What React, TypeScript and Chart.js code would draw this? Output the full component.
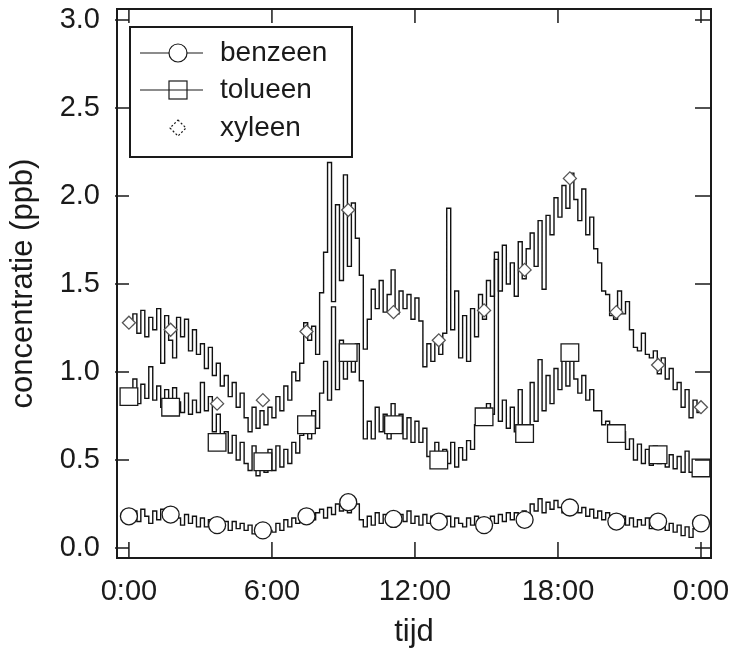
import React, { useEffect, useRef } from 'react';
import { Chart, registerables } from 'chart.js';

Chart.register(...registerables);

// time step of the measured series: 10 minutes (in hours)
const STEP_HOURS = 1 / 6;

const xTickValues = [0, 6, 12, 18, 24];
const xTickLabels = ['0:00', '6:00', '12:00', '18:00', '0:00'];
const yTickValues = [0, 0.5, 1.0, 1.5, 2.0, 2.5, 3.0];

const seriesLabels = ['benzeen', 'tolueen', 'xyleen'];

// 10-minute values, 0:00 .. 24:00 (145 points)
const benzeen = [
  0.17, 0.21, 0.15, 0.22, 0.18, 0.14,
  0.21, 0.16, 0.22, 0.17, 0.15, 0.20,
  0.17, 0.13, 0.19, 0.14, 0.18, 0.12,
  0.17, 0.12, 0.16, 0.11, 0.16, 0.12,
  0.15, 0.10, 0.15, 0.11, 0.14, 0.10,
  0.13, 0.08, 0.13, 0.09, 0.12, 0.10,
  0.09, 0.14, 0.10, 0.16, 0.12, 0.17,
  0.14, 0.19, 0.15, 0.21, 0.16, 0.20,
  0.22, 0.17, 0.23, 0.19, 0.25, 0.21,
  0.26, 0.20, 0.28, 0.25, 0.16, 0.12,
  0.18, 0.13, 0.20, 0.14, 0.19, 0.15,
  0.20, 0.14, 0.19, 0.15, 0.21, 0.14,
  0.18, 0.13, 0.19, 0.14, 0.18, 0.12,
  0.17, 0.13, 0.18, 0.12, 0.17, 0.14,
  0.12, 0.17, 0.13, 0.18, 0.14, 0.17,
  0.13, 0.18, 0.14, 0.19, 0.15, 0.20,
  0.16, 0.20, 0.15, 0.21, 0.18, 0.25,
  0.21, 0.28, 0.20, 0.26, 0.22, 0.27,
  0.23, 0.20, 0.26, 0.21, 0.24, 0.20,
  0.23, 0.18, 0.22, 0.17, 0.21, 0.16,
  0.20, 0.15, 0.19, 0.14, 0.18, 0.13,
  0.17, 0.12, 0.16, 0.13, 0.17, 0.11,
  0.15, 0.11, 0.16, 0.10, 0.14, 0.09,
  0.13, 0.07, 0.12, 0.06, 0.11, 0.12,
  0.14,
];

const tolueen = [
  0.88, 0.96, 0.82, 0.93, 0.85, 1.03,
  0.84, 0.92, 0.80, 0.90, 0.78, 0.91,
  0.83, 0.77, 0.88, 0.76, 0.84, 0.77,
  0.94, 0.78, 0.86, 0.66, 0.76, 0.60,
  0.66, 0.54, 0.64, 0.50, 0.60, 0.48,
  0.44, 0.58, 0.41, 0.52, 0.43, 0.56,
  0.44, 0.58, 0.46, 0.56, 0.48, 0.60,
  0.54, 0.64, 0.72, 0.62, 0.78, 0.68,
  0.88, 1.06, 0.84, 1.37, 0.90, 1.18,
  0.96, 1.14, 1.00, 1.16, 0.95, 0.62,
  0.72, 0.62, 0.80, 0.66, 0.76, 0.62,
  0.82, 0.66, 0.76, 0.62, 0.74, 0.60,
  0.72, 0.60, 0.68, 0.52, 0.48, 0.60,
  0.46, 0.56, 0.48, 0.60, 0.46, 0.57,
  0.50, 0.61, 0.56, 0.70, 0.70, 0.78,
  0.82, 0.76, 1.68, 0.72, 0.84, 0.68,
  0.80, 0.66, 0.90, 0.70, 0.64, 0.94,
  0.72, 1.07, 0.78, 0.98, 0.82, 1.02,
  0.90, 1.06, 0.92, 1.07, 0.96, 0.88,
  0.98, 0.84, 0.90, 0.78, 0.78, 0.70,
  0.72, 0.62, 0.70, 0.60, 0.66, 0.56,
  0.62, 0.50, 0.59, 0.48, 0.56, 0.47,
  0.58, 0.48, 0.56, 0.46, 0.53, 0.45,
  0.52, 0.43, 0.55, 0.43, 0.50, 0.44,
  0.46,
];

const xyleen = [
  1.27, 1.33, 1.22, 1.35, 1.20, 1.31,
  1.24, 1.36, 1.05, 1.32, 1.18, 1.08,
  1.31, 1.20, 1.30, 1.12, 1.24, 1.10,
  1.16, 1.02, 1.14, 0.98, 1.05, 0.92,
  0.98, 0.86, 0.94, 0.80, 0.88, 0.74,
  0.66, 0.80, 0.68, 0.78, 0.70, 0.80,
  0.74, 0.86, 0.78, 0.92, 0.84, 1.00,
  0.95, 1.05, 1.28, 1.18, 1.26, 1.10,
  1.45, 1.68, 2.19, 1.40, 1.95, 1.52,
  2.12, 1.60, 1.96, 1.76, 1.55, 1.13,
  1.30, 1.47, 1.36, 1.52, 1.34, 1.44,
  1.58, 1.33, 1.46, 1.36, 1.44, 1.30,
  1.42, 1.29, 1.03, 1.16, 1.06, 1.19,
  1.10, 1.22, 1.93, 1.24, 1.46, 1.08,
  1.32, 1.06, 1.36, 1.20, 1.44, 1.30,
  1.52, 1.43, 1.64, 1.46, 1.72, 1.50,
  1.62, 1.43, 1.74, 1.53, 1.70, 1.79,
  1.60, 1.86, 1.47, 1.89, 1.78, 1.99,
  1.88, 2.06, 1.93, 2.13, 1.98, 1.86,
  2.04, 1.78, 1.88, 1.70, 1.62, 1.46,
  1.44, 1.32, 1.30, 1.46, 1.33, 1.40,
  1.24, 1.14, 1.12, 1.22, 1.10, 1.08,
  1.12, 0.99, 1.08, 0.96, 1.02, 0.90,
  0.94, 0.80, 0.90, 0.74, 0.84, 0.77,
  0.80,
];

// marker symbols (hours) and their values
const markerTimes = [0.0, 1.75, 3.7, 5.62, 7.45, 9.2, 11.1, 13.0, 14.9, 16.6, 18.5, 20.45, 22.2, 24.0];
const benzeenMarkers = [0.18, 0.19, 0.13, 0.10, 0.18, 0.26, 0.165, 0.15, 0.13, 0.16, 0.23, 0.15, 0.15, 0.14];
const tolueenMarkers = [0.86, 0.80, 0.60, 0.49, 0.70, 1.11, 0.70, 0.50, 0.745, 0.65, 1.11, 0.65, 0.53, 0.455];
const xyleenMarkers = [1.28, 1.24, 0.82, 0.84, 1.23, 1.92, 1.34, 1.18, 1.35, 1.58, 2.10, 1.34, 1.04, 0.80];

const FONT = '"Liberation Sans", Arial, sans-serif';
const INK = '#1a1a1a';

function toPoints(vals: number[]) {
  return vals.map((v, i) => ({ x: i * STEP_HOURS, y: v }));
}
function toMarkerPoints(vals: number[]) {
  return vals.map((v, i) => ({ x: markerTimes[i], y: v }));
}

export default function App() {
  const ref = useRef<HTMLCanvasElement>(null);

  useEffect(() => {
    document.body.style.margin = '0';
    document.body.style.overflow = 'hidden';
    const canvas = ref.current;
    if (!canvas) return;

    const frameTicks = {
      id: 'frameTicks',
      afterDatasetsDraw(chart: any) {
        const { ctx, chartArea: ca, scales } = chart;
        ctx.save();
        ctx.strokeStyle = INK;
        ctx.lineWidth = 2;
        ctx.strokeRect(ca.left, ca.top, ca.right - ca.left, ca.bottom - ca.top);
        ctx.lineWidth = 1.5;
        ctx.beginPath();
        for (const v of yTickValues) {
          const py = scales.y.getPixelForValue(v);
          ctx.moveTo(ca.left - 2, py);
          ctx.lineTo(ca.left + 12, py);
          ctx.moveTo(ca.right - 16, py);
          ctx.lineTo(ca.right + 1, py);
        }
        for (const v of xTickValues) {
          const px = scales.x.getPixelForValue(v);
          ctx.moveTo(px, ca.bottom + 1);
          ctx.lineTo(px, ca.bottom - 16);
          ctx.moveTo(px, ca.top - 1);
          ctx.lineTo(px, ca.top + 14);
        }
        ctx.stroke();
        ctx.restore();
      },
    };

    const legendBox = {
      id: 'legendBox',
      afterDraw(chart: any) {
        const { ctx, chartArea: ca } = chart;
        const left = ca.left + 13;
        const top = ca.top + 18;
        const w = 222;
        const h = 130;
        ctx.save();
        ctx.fillStyle = '#fff';
        ctx.fillRect(left, top, w, h);
        ctx.strokeStyle = INK;
        ctx.lineWidth = 2;
        ctx.strokeRect(left, top, w, h);
        const rows = [top + 26, top + 63, top + 101];
        const sx0 = left + 10;
        const sx1 = left + 73;
        const cx = left + 48;
        ctx.lineWidth = 1.2;
        // benzeen
        ctx.beginPath();
        ctx.moveTo(sx0, rows[0]);
        ctx.lineTo(sx1, rows[0]);
        ctx.stroke();
        ctx.beginPath();
        ctx.arc(cx, rows[0], 9, 0, Math.PI * 2);
        ctx.fillStyle = '#fff';
        ctx.fill();
        ctx.stroke();
        // tolueen
        ctx.fillRect(cx - 9, rows[1] - 9, 18, 18);
        ctx.strokeRect(cx - 9, rows[1] - 9, 18, 18);
        ctx.beginPath();
        ctx.moveTo(sx0, rows[1]);
        ctx.lineTo(sx1, rows[1]);
        ctx.stroke();
        // xyleen
        ctx.setLineDash([2, 2]);
        ctx.beginPath();
        ctx.moveTo(cx, rows[2] - 8);
        ctx.lineTo(cx + 8, rows[2]);
        ctx.lineTo(cx, rows[2] + 8);
        ctx.lineTo(cx - 8, rows[2]);
        ctx.closePath();
        ctx.stroke();
        ctx.setLineDash([]);
        ctx.fillStyle = INK;
        ctx.font = `28px ${FONT}`;
        ctx.textBaseline = 'middle';
        ctx.textAlign = 'left';
        seriesLabels.forEach((t, i) => ctx.fillText(t, left + 90, rows[i]));
        ctx.restore();
      },
    };

    const lineDs = (label: string, vals: number[]) => ({
      label,
      data: toPoints(vals),
      showLine: true,
      borderColor: '#111',
      borderWidth: 1.4,
      pointRadius: 0,
      pointHoverRadius: 0,
      stepped: true,
      fill: false,
      order: 2,
    });
    const markDs = (label: string, vals: number[], style: string, r: number, dash = false) => ({
      label: label + ' markers',
      data: toMarkerPoints(vals),
      showLine: false,
      pointStyle: style,
      pointRadius: r,
      pointBackgroundColor: '#fff',
      pointBorderColor: dash ? '#555' : INK,
      pointBorderWidth: 1.3,
      order: 1,
    });

    const chart = new Chart(canvas, {
      type: 'scatter',
      data: {
        datasets: [
          lineDs(seriesLabels[0], benzeen),
          lineDs(seriesLabels[1], tolueen),
          lineDs(seriesLabels[2], xyleen),
          markDs(seriesLabels[0], benzeenMarkers, 'circle', 8.5),
          markDs(seriesLabels[1], tolueenMarkers, 'rect', 12.5),
          markDs(seriesLabels[2], xyleenMarkers, 'rectRot', 6.5, true),
        ] as any,
      },
      options: {
        animation: false,
        responsive: true,
        maintainAspectRatio: false,
        layout: { autoPadding: false, padding: { top: 9, right: 18, bottom: 0, left: 0 } },
        plugins: { legend: { display: false }, tooltip: { enabled: false } },
        scales: {
          x: {
            type: 'linear',
            min: -0.5,
            max: 24.42,
            afterBuildTicks: (s: any) => {
              s.ticks = xTickValues.map((v) => ({ value: v }));
            },
            afterFit: (s: any) => {
              s.height = 96;
              s.paddingLeft = 0;
              s.paddingRight = 0;
            },
            grid: { display: false, drawTicks: false },
            border: { display: false },
            ticks: {
              padding: 17,
              color: INK,
              font: { family: FONT, size: 29 },
              maxRotation: 0,
              autoSkip: false,
              callback: (v: any) => {
                const i = xTickValues.indexOf(Number(v));
                return i >= 0 ? xTickLabels[i] : '';
              },
            },
            title: {
              display: true,
              text: 'tijd',
              color: INK,
              font: { family: FONT, size: 31 },
              padding: { top: 0, bottom: 3 },
            },
          },
          y: {
            type: 'linear',
            min: -0.057,
            max: 3.0625,
            afterBuildTicks: (s: any) => {
              s.ticks = yTickValues.map((v) => ({ value: v }));
            },
            afterFit: (s: any) => {
              s.width = 117;
              s.paddingTop = 0;
              s.paddingBottom = 0;
            },
            grid: { display: false, drawTicks: false },
            border: { display: false },
            ticks: {
              padding: 17,
              color: INK,
              font: { family: FONT, size: 29 },
              autoSkip: false,
              callback: (v: any) => Number(v).toFixed(1),
            },
            title: {
              display: true,
              text: 'concentratie (ppb)',
              color: INK,
              font: { family: FONT, size: 31 },
              padding: { top: 5, bottom: 0 },
            },
          },
        },
      },
      plugins: [frameTicks, legendBox],
    });

    return () => chart.destroy();
  }, []);

  return (
    <div style={{ width: 729, height: 654, position: 'relative' }}>
      <canvas ref={ref} />
    </div>
  );
}
